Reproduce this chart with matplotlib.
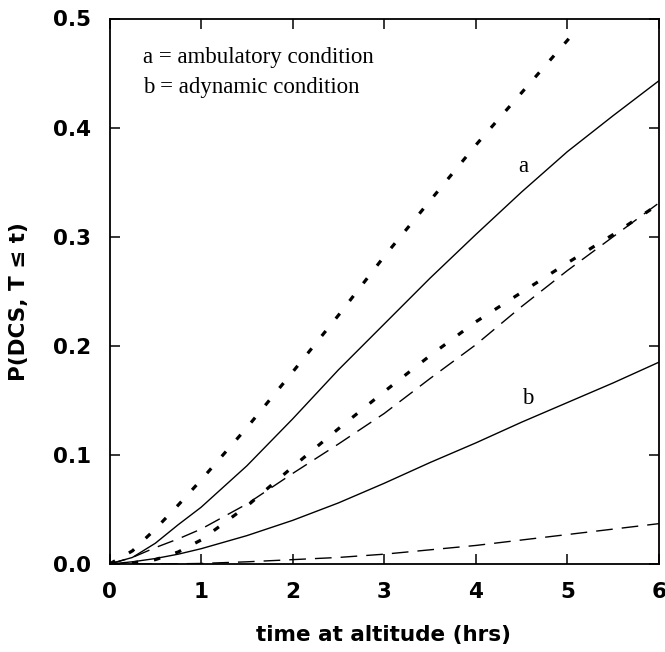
import matplotlib
matplotlib.use("Agg")
import matplotlib.pyplot as plt
import numpy as np

# ---- data ----
t = [0, 0.25, 0.5, 0.75, 1, 1.5, 2, 2.5, 3, 3.5, 4, 4.5, 5, 5.5, 6]
t_upper = [0, 0.25, 0.5, 0.75, 1, 1.5, 2, 2.5, 3, 3.5, 4, 4.5, 5, 5.05]
upper_dotted = [0, 0.012, 0.032, 0.054, 0.077, 0.125, 0.176, 0.228, 0.282, 0.333, 0.384, 0.432, 0.480, 0.485]
curve_a = [0, 0.006, 0.019, 0.036, 0.052, 0.090, 0.133, 0.178, 0.220, 0.262, 0.302, 0.341, 0.378, 0.411, 0.443]
mid_dotted = [0, 0.001, 0.004, 0.011, 0.022, 0.053, 0.089, 0.124, 0.158, 0.191, 0.222, 0.249, 0.276, 0.302, 0.330]
mid_dashed = [0, 0.006, 0.015, 0.023, 0.032, 0.055, 0.083, 0.110, 0.138, 0.170, 0.201, 0.236, 0.269, 0.300, 0.331]
curve_b = [0, 0.002, 0.005, 0.009, 0.014, 0.026, 0.040, 0.056, 0.074, 0.093, 0.111, 0.130, 0.148, 0.166, 0.185]
low_dashed = [0, 0, 0, 0.0002, 0.0005, 0.002, 0.004, 0.006, 0.009, 0.013, 0.017, 0.022, 0.027, 0.032, 0.037]

xticks = [0, 1, 2, 3, 4, 5, 6]
yticks = [0.0, 0.1, 0.2, 0.3, 0.4, 0.5]
xlabel = "time at altitude (hrs)"
ylabel = "P(DCS, T \u2264 t)"
note1 = "a = ambulatory condition"
note2 = "b = adynamic condition"

W, H = 665, 652
fig = plt.figure(figsize=(W / 100, H / 100), dpi=100)
ax = fig.add_axes([109.5 / W, 1 - 564 / H, (659 - 109.5) / W, (564 - 18.5) / H])

dot_style = (0, (2.0, 5.0))
dash_style = (0, (12, 6.5))

ax.plot(t_upper, upper_dotted, color="black", lw=2.3, linestyle=dot_style)
ax.plot(t, curve_a, color="black", lw=1.0)
ax.plot(t, mid_dotted, color="black", lw=2.3, linestyle=dot_style)
ax.plot(t, mid_dashed, color="black", lw=1.0, linestyle=dash_style)
ax.plot(t, curve_b, color="black", lw=1.0)
ax.plot(t, low_dashed, color="black", lw=1.0, linestyle=dash_style)

ax.set_xlim(0, 6)
ax.set_ylim(0, 0.5)
ax.set_xticks(xticks)
ax.set_yticks(yticks)
ax.set_xticklabels([str(v) for v in xticks])
ax.set_yticklabels([f"{v:.1f}" for v in yticks])

for s in ax.spines.values():
    s.set_linewidth(1.3)

ax.tick_params(direction="in", length=7, width=1.1, top=True, right=True,
               labelsize=15.5, pad=13)
for lab in ax.get_xticklabels() + ax.get_yticklabels():
    lab.set_fontweight("bold")
    lab.set_family("DejaVu Sans")

serif = ["Liberation Serif", "DejaVu Serif"]
ax.text(0.366, 0.459, note1, family=serif, fontsize=16.5, ha="left", va="baseline")
ax.text(0.366, 0.432, note2, family=serif, fontsize=16.5, ha="left", va="baseline")
ax.text(4.52, 0.364, "a", family=serif, fontsize=16.5, ha="center", va="center")
ax.text(4.57, 0.152, "b", family=serif, fontsize=16.5, ha="center", va="center")

fig.text(383 / W, 1 - 635 / H, xlabel, fontsize=15.5, fontweight="bold",
         family="DejaVu Sans", ha="center", va="center")
fig.text(19 / W, 1 - 302 / H, ylabel, fontsize=15.5, fontweight="bold",
         family="DejaVu Sans", ha="center", va="center", rotation=90)

fig.savefig("out.png", dpi=100)
